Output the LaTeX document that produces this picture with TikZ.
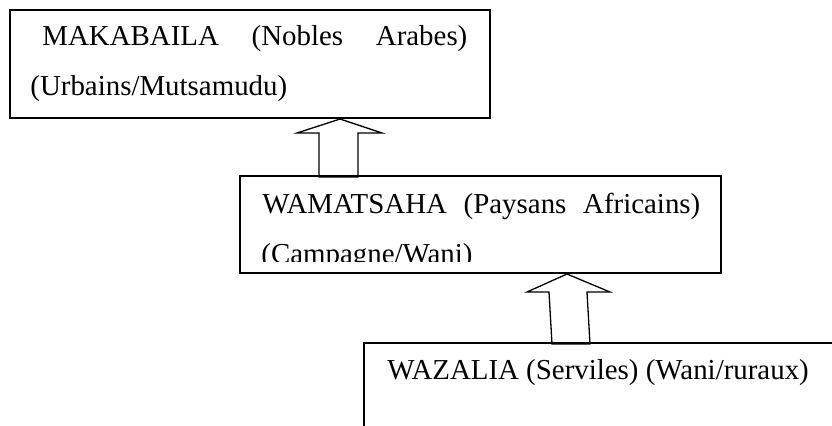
\documentclass[tikz,border=0pt]{standalone}
\usepackage{fontspec}
\setmainfont{Liberation Serif}
\begin{document}
\begin{tikzpicture}[x=0.5pt,y=-0.5pt,
  box/.style={draw,line width=1pt,rectangle,inner sep=0pt,anchor=north west},
  txt/.style={anchor=base west,inner sep=0pt,font=\fontsize{14.45pt}{17pt}\selectfont},
  blockarrow/.style={draw,line width=0.65pt,line join=miter}]
\useasboundingbox (0,0) rectangle (832,425);
\clip (0,0) rectangle (832,425);
% boxes
\node[box,minimum width=240pt,minimum height=54pt] (b1) at (9,9) {};
\node[box,minimum width=240.5pt,minimum height=48.5pt] (b2) at (239,175) {};
\node[box,minimum width=300pt,minimum height=100pt] (b3) at (363,342) {};
% texts
\node[txt] (t1a) at (42,45) {\makebox[212.5pt][s]{MAKABAILA (Nobles Arabes)}};
\node[txt] (t1b) at (30,95) {(Urbains/Mutsamudu)};
\node[txt] (t2a) at (262,213) {\makebox[219pt][s]{WAMATSAHA (Paysans Africains)}};
\begin{scope}
  \clip (0,0) rectangle (832,261);
  \node[txt] (t2b) at (261,263) {(Campagne/Wani)};
\end{scope}
\node[txt] (t3a) at (387,379) {WAZALIA (Serviles) (Wani/ruraux)};
% block arrows
\coordinate (a1tip) at (b1.south -| 340,0);
\draw[blockarrow] (a1tip) -- ++(42,14) -- ++(-24,0) -- ++(0,44) -- ++(-39,0) -- ++(0,-44) -- ++(-22,0) -- cycle;
\coordinate (a2tip) at (b2.south -| 567,0);
\draw[blockarrow] (a2tip) -- ++(43,18) -- ++(-23,0) -- ++(3,52) -- ++(-38,0) -- ++(-3,-52) -- ++(-22,0) -- cycle;
\end{tikzpicture}
\end{document}
